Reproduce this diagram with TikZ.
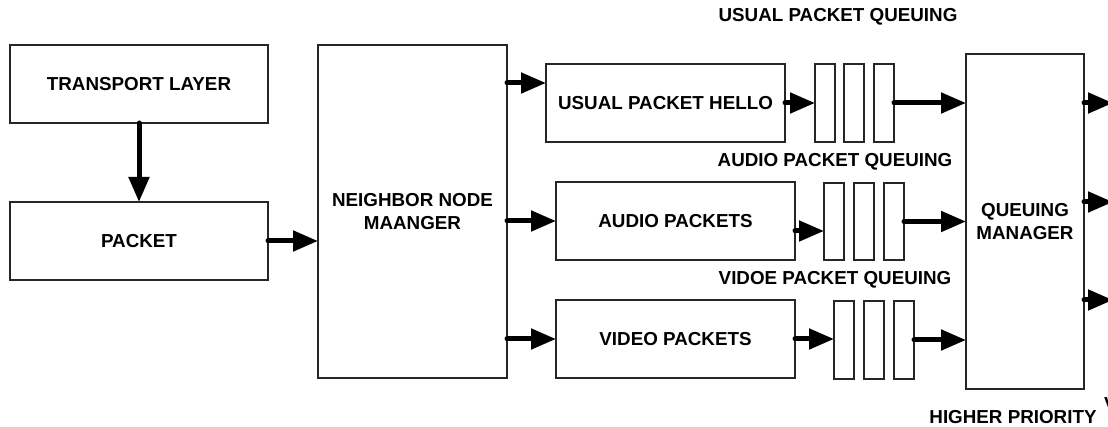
\documentclass[tikz,border=0pt]{standalone}
\usepackage{fontspec}
\setmainfont{Liberation Sans}
\usetikzlibrary{arrows.meta,calc}
\begin{document}
\begin{tikzpicture}[x=1pt,y=-1pt,
  box/.style={draw=black!85,line width=1.2pt,inner sep=0pt,outer sep=0pt,align=center,
    font=\fontsize{18.8}{23}\selectfont\bfseries},
  qbox/.style={draw=black!85,line width=1.1pt,inner sep=0pt,outer sep=0pt,minimum width=20pt},
  lbl/.style={inner sep=0pt,font=\fontsize{18.8}{23}\selectfont\bfseries},
  arr/.style={line width=5pt,line cap=round,-{Triangle[length=25pt,width=20pt]}}]
\useasboundingbox (0,0) rectangle (1108,427);
\clip (0,0) rectangle (1108,427);
% left column
\node[box,minimum width=258pt,minimum height=78pt] (tl) at (139,84) {TRANSPORT LAYER};
\node[box,minimum width=258pt,minimum height=78pt] (pk) at (139,241) {PACKET};
\node[box,minimum width=189pt,minimum height=333pt] (nnm) at (412.5,211.5) {NEIGHBOR NODE\\MAANGER};
% packet boxes
\node[box,minimum width=239pt,minimum height=78pt] (us) at (665.5,103) {USUAL PACKET HELLO};
\node[box,minimum width=239pt,minimum height=78pt] (au) at (675.5,221) {AUDIO PACKETS};
\node[box,minimum width=239pt,minimum height=78pt] (vi) at (675.5,339) {VIDEO PACKETS};
% queues
\node[qbox,minimum height=78pt] (uq1) at (825,103) {};
\node[qbox,minimum height=78pt] (uq2) at (854,103) {};
\node[qbox,minimum height=78pt] (uq3) at (884,103) {};
\node[qbox,minimum height=77pt] (aq1) at (834,221.5) {};
\node[qbox,minimum height=77pt] (aq2) at (864,221.5) {};
\node[qbox,minimum height=77pt] (aq3) at (894,221.5) {};
\node[qbox,minimum height=78pt] (vq1) at (844,340) {};
\node[qbox,minimum height=78pt] (vq2) at (874,340) {};
\node[qbox,minimum height=78pt] (vq3) at (904,340) {};
% queuing manager
\node[box,minimum width=118pt,minimum height=335pt] (qm) at (1025,221.5) {QUEUING\\MANAGER};
% labels
\node[lbl] (l1) at (838,17) {USUAL PACKET QUEUING};
\node[lbl] (l2) at (835,162) {AUDIO PACKET QUEUING};
\node[lbl] (l3) at (835,280) {VIDOE PACKET QUEUING};
\node[lbl] (l4) at (1013,417) {HIGHER PRIORITY};
\node[lbl,anchor=west] (l5) at (1104,404) {V};
% output coordinates
\coordinate (o1) at (1113,103);
\coordinate (o2) at (1113,202);
\coordinate (o3) at (1113,300);
% connectors
\draw[arr] (tl.south) -- (pk.north);
\draw[arr] (pk.east) -- (pk.east -| nnm.west);
\draw[arr] ([yshift=20pt]us.west -| nnm.east) -- ([yshift=20pt]us.west);
\draw[arr] (au.west -| nnm.east) -- (au.west);
\draw[arr] (vi.west -| nnm.east) -- (vi.west);
\draw[arr] (us.east) -- (uq1.west);
\draw[arr] ([yshift=-10pt]au.east) -- ([yshift=-10pt]au.east -| aq1.west);
\draw[arr] (vi.east) -- (vi.east -| vq1.west);
\draw[arr] (uq3.east) -- (uq3.east -| qm.west);
\draw[arr] (aq3.east |- qm.west) -- (qm.west);
\draw[arr] (vq3.east) -- (vq3.east -| qm.west);
\draw[arr] (qm.east |- o1) -- (o1);
\draw[arr] (qm.east |- o2) -- (o2);
\draw[arr] (qm.east |- o3) -- (o3);
\end{tikzpicture}
\end{document}
